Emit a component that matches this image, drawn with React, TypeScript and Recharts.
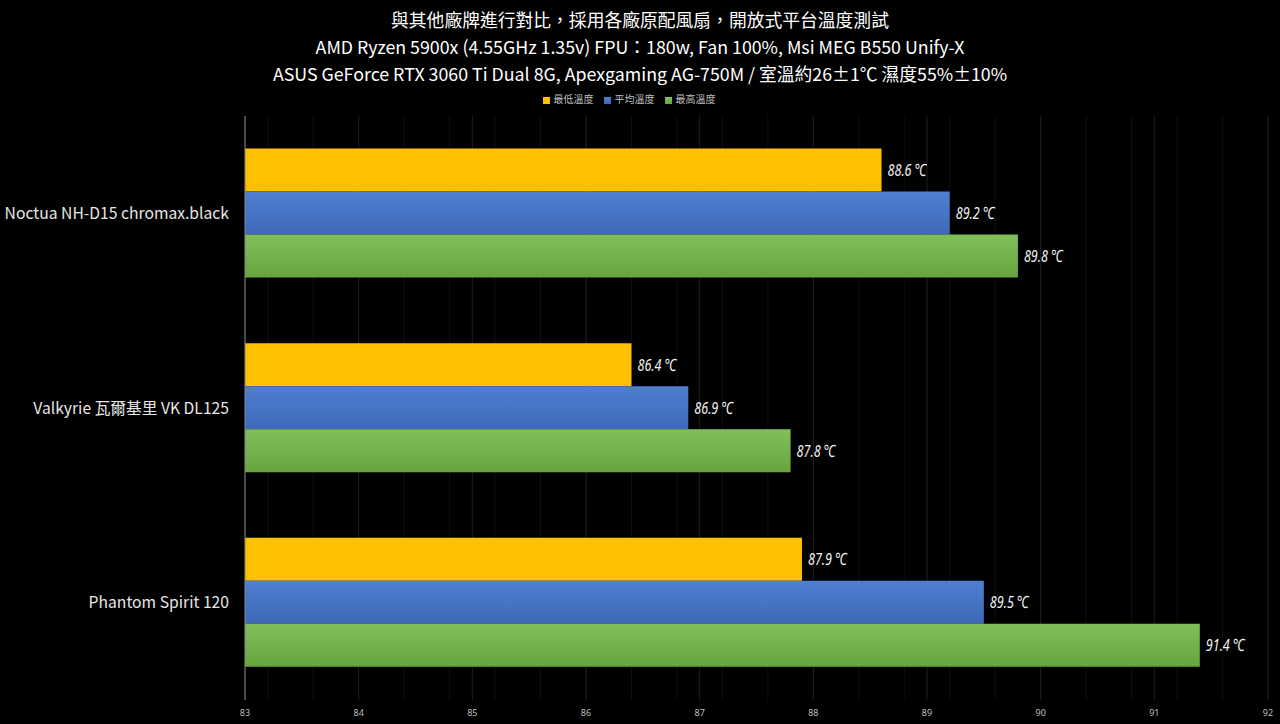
import React from 'react';
import { BarChart, Bar, XAxis, YAxis, CartesianGrid, Legend, LabelList } from 'recharts';

const categories = ['Noctua NH-D15 chromax.black', 'Valkyrie 瓦爾基里 VK DL125', 'Phantom Spirit 120'];
const minTemp = [88.6, 86.4, 87.9];
const avgTemp = [89.2, 86.9, 89.5];
const maxTemp = [89.8, 87.8, 91.4];
const xTicks = [83, 84, 85, 86, 87, 88, 89, 90, 91, 92];
const seriesNames = ['最低溫度', '平均溫度', '最高溫度'];
const titleLines = [
  '與其他廠牌進行對比，採用各廠原配風扇，開放式平台溫度測試',
  'AMD Ryzen 5900x (4.55GHz 1.35v) FPU：180w, Fan 100%, Msi MEG B550 Unify-X',
  'ASUS GeForce RTX 3060 Ti Dual 8G, Apexgaming AG-750M / 室溫約26±1℃ 濕度55%±10%',
];

const data = categories.map((name, i) => ({ name, min: minTemp[i], avg: avgTemp[i], max: maxTemp[i] }));

const minorTicks: number[] = [];
for (let t = 83; t <= 92; t++) {
  for (let k = 0; k < 5; k++) {
    const v = Math.round((t + k * 0.2) * 10) / 10;
    if (v <= 92) minorTicks.push(v);
  }
}

const ValueLabel = (props: any) => {
  const { x, y, width, height, value } = props;
  const lx = Number(x) + Number(width) + 6;
  const ly = Number(y) + Number(height) / 2;
  return (
    <text
      transform={`translate(${lx},${ly}) scale(0.74,1)`}
      x={0}
      y={0}
      dy="0.35em"
      fill="#f2f2f2"
      fontSize={17}
      fontStyle="italic"
      fontFamily='"Noto Sans", sans-serif'
    >
      {`${value} ℃`}
    </text>
  );
};

export default function App() {
  return (
    <div style={{ position: 'fixed', left: 0, top: 0, width: 1280, height: 724, background: '#000', overflow: 'hidden' }}>
      <div style={{ position: 'absolute', top: 6, left: 0, width: 1280, textAlign: 'center', color: '#fff', fontFamily: '"Noto Sans CJK TC", "Noto Sans", sans-serif', fontSize: 17.8, fontWeight: 400, lineHeight: '27px' }}>
        {titleLines.map((l, i) => (<div key={i}>{l}</div>))}
      </div>
      <BarChart
        width={1280}
        height={724}
        data={data}
        layout="vertical"
        margin={{ top: 101, right: 12, bottom: 0, left: 0 }}
        barCategoryGap="16.7%"
        barGap={0}
      >
        <defs>
          <linearGradient id="gY" x1="0" y1="0" x2="0" y2="1">
            <stop offset="0" stopColor="#FFC000" />
            <stop offset="1" stopColor="#FFC000" />
          </linearGradient>
          <linearGradient id="gB" x1="0" y1="0" x2="0" y2="1">
            <stop offset="0" stopColor="#4f7fd0" />
            <stop offset="1" stopColor="#3f69b8" />
          </linearGradient>
          <linearGradient id="gG" x1="0" y1="0" x2="0" y2="1">
            <stop offset="0" stopColor="#80bf5a" />
            <stop offset="1" stopColor="#66a53e" />
          </linearGradient>
        </defs>
        <CartesianGrid xAxisId="minor" horizontal={false} stroke="#0f0f0f" />
        <CartesianGrid horizontal={false} stroke="#1e1e1e" />
        <Legend
          verticalAlign="top"
          align="center"
          iconType="square"
          iconSize={7}
          itemSorter={(item: any) => seriesNames.indexOf(item.value)}
          wrapperStyle={{ top: 91, fontSize: 10, fontFamily: '"Noto Sans CJK TC", sans-serif' }}
          formatter={(v: string) => <span style={{ color: '#bfbfbf' }}>{v}</span>}
        />
        <XAxis
          xAxisId="minor"
          type="number"
          domain={[83, 92]}
          ticks={minorTicks}
          allowDataOverflow
          hide
        />
        <XAxis
          type="number"
          domain={[83, 92]}
          ticks={xTicks}
          allowDataOverflow
          axisLine={false}
          tickLine={false}
          height={24}
          tick={{ fill: '#bfbfbf', fontSize: 9, fontFamily: '"Noto Sans", sans-serif' }}
          tickMargin={4}
        />
        <YAxis
          type="category"
          dataKey="name"
          width={245}
          axisLine={{ stroke: '#808080' }}
          tickLine={false}
          tick={{ fill: '#e6e6e6', fontSize: 15.7, fontFamily: '"Noto Sans CJK TC", "Noto Sans", sans-serif' }}
          tickMargin={10}
        />
        <Bar dataKey="min" name={seriesNames[0]} fill="url(#gY)" isAnimationActive={false} legendType="square">
          <LabelList dataKey="min" content={ValueLabel} />
        </Bar>
        <Bar dataKey="avg" name={seriesNames[1]} fill="url(#gB)" isAnimationActive={false} legendType="square">
          <LabelList dataKey="avg" content={ValueLabel} />
        </Bar>
        <Bar dataKey="max" name={seriesNames[2]} fill="url(#gG)" isAnimationActive={false} legendType="square">
          <LabelList dataKey="max" content={ValueLabel} />
        </Bar>
      </BarChart>
    </div>
  );
}
